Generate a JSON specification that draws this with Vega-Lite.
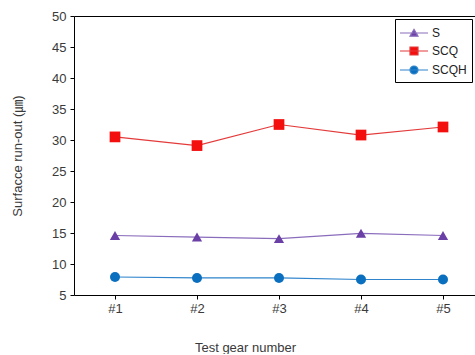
{
  "$schema": "https://vega.github.io/schema/vega-lite/v6.json",
  "width": 410,
  "height": 279,
  "padding": {"left": 11, "top": 10, "right": 0, "bottom": 0},
  "background": "white",
  "config": {
    "font": "Liberation Sans, Noto Sans CJK KR",
    "view": {"stroke": "black", "strokeWidth": 1},
    "axis": {
      "grid": false,
      "domain": false,
      "tickColor": "black",
      "tickSize": 4,
      "labelFontSize": 13,
      "labelColor": "#3a3a3a",
      "titleFontSize": 13,
      "titleFontWeight": "normal",
      "titleColor": "#3a3a3a"
    },
    "legend": {
      "orient": "none",
      "legendX": 321,
      "legendY": 3,
      "strokeColor": "black",
      "fillColor": "white",
      "padding": 5,
      "cornerRadius": 0,
      "symbolSize": 256,
      "symbolStrokeWidth": 1.2,
      "symbolOpacity": 1,
      "symbolOffset": 5,
      "labelFontSize": 12,
      "labelColor": "#222",
      "labelOffset": 9,
      "rowPadding": 3
    }
  },
  "data": {
    "values": [
      {"gear": "#1", "series": "S", "runout": 14.6},
      {"gear": "#2", "series": "S", "runout": 14.35},
      {"gear": "#3", "series": "S", "runout": 14.1},
      {"gear": "#4", "series": "S", "runout": 14.95},
      {"gear": "#5", "series": "S", "runout": 14.6},
      {"gear": "#1", "series": "SCQ", "runout": 30.5},
      {"gear": "#2", "series": "SCQ", "runout": 29.1},
      {"gear": "#3", "series": "SCQ", "runout": 32.5},
      {"gear": "#4", "series": "SCQ", "runout": 30.8},
      {"gear": "#5", "series": "SCQ", "runout": 32.1},
      {"gear": "#1", "series": "SCQH", "runout": 7.9},
      {"gear": "#2", "series": "SCQH", "runout": 7.75},
      {"gear": "#3", "series": "SCQH", "runout": 7.75},
      {"gear": "#4", "series": "SCQH", "runout": 7.5},
      {"gear": "#5", "series": "SCQH", "runout": 7.5}
    ]
  },
  "encoding": {
    "x": {
      "field": "gear",
      "type": "ordinal",
      "scale": {"type": "point", "padding": 0.5},
      "axis": {
        "title": "Test gear number",
        "labelAngle": 0,
        "labelPadding": 3,
        "titlePadding": 26,
        "titleX": 171,
        "titleAlign": "center"
      }
    },
    "y": {
      "field": "runout",
      "type": "quantitative",
      "scale": {"domain": [5, 50], "nice": false, "zero": false},
      "axis": {
        "title": "Surfacce run-out (㎛)",
        "values": [5, 10, 15, 20, 25, 30, 35, 40, 45, 50],
        "labelPadding": 4,
        "titlePadding": 27
      }
    }
  },
  "layer": [
    {
      "transform": [{"filter": "datum.series === 'S'"}],
      "mark": {
        "type": "line", "color": "#8a6cbc", "strokeWidth": 1.2,
        "point": {"filled": true, "shape": "triangle-up", "size": 105, "color": "#6a3fa6"}
      }
    },
    {
      "transform": [{"filter": "datum.series === 'SCQ'"}],
      "mark": {
        "type": "line", "color": "#e43a3a", "strokeWidth": 1.2,
        "point": {"filled": true, "shape": "square", "size": 115, "color": "#f40f0f"}
      }
    },
    {
      "transform": [{"filter": "datum.series === 'SCQH'"}],
      "mark": {
        "type": "line", "color": "#2f84cc", "strokeWidth": 1.2,
        "point": {"filled": true, "shape": "circle", "size": 100, "color": "#0b6fbf"}
      }
    },
    {
      "mark": {"type": "point", "filled": true, "size": 0, "strokeWidth": 1.2},
      "encoding": {
        "color": {
          "field": "series",
          "type": "nominal",
          "scale": {"domain": ["S", "SCQ", "SCQH"], "range": ["#6a3fa6", "#f40f0f", "#0b6fbf"]},
          "legend": {"title": null}
        },
        "stroke": {
          "field": "series",
          "type": "nominal",
          "scale": {"domain": ["S", "SCQ", "SCQH"], "range": ["#8a6cbc", "#e43a3a", "#2f84cc"]},
          "legend": {"title": null}
        },
        "shape": {
          "field": "series",
          "type": "nominal",
          "scale": {
            "domain": ["S", "SCQ", "SCQH"],
            "range": [
              "M-1.75,0H1.75M0,-0.45L0.5,0.4L-0.5,0.4Z",
              "M-1.75,0H1.75M-0.5,-0.5H0.5V0.5H-0.5Z",
              "M-1.75,0H1.75M0.5,0A0.5,0.5,0,1,1,-0.5,0A0.5,0.5,0,1,1,0.5,0Z"
            ]
          },
          "legend": {"title": null}
        }
      }
    }
  ]
}
